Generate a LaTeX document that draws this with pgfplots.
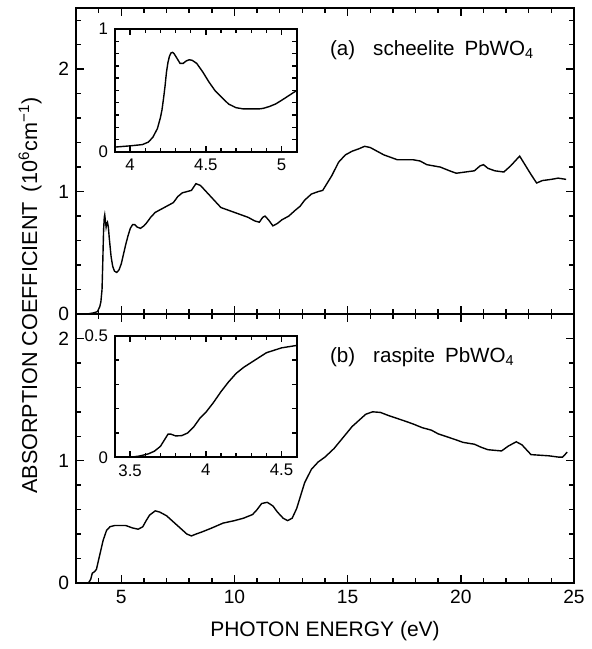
\documentclass[border=0pt]{standalone}
\usepackage{fontspec}
\setmainfont{Liberation Sans}
\usepackage{pgfplots}
\pgfplotsset{compat=1.18}

% scheelite (a): main spectrum and edge inset
\pgfplotstableread{
E v
3.0 0
3.5 0
3.8 0.01
3.95 0.02
4.05 0.06
4.1 0.1
4.15 0.2
4.18 0.4
4.2 0.55
4.22 0.69
4.25 0.79
4.27 0.81
4.3 0.76
4.33 0.71
4.36 0.74
4.39 0.75
4.43 0.71
4.47 0.62
4.55 0.47
4.62 0.39
4.7 0.35
4.8 0.34
4.9 0.36
5.0 0.41
5.1 0.49
5.2 0.57
5.3 0.64
5.4 0.70
5.5 0.73
5.6 0.73
5.7 0.71
5.85 0.70
6.0 0.72
6.1 0.74
6.3 0.79
6.5 0.83
6.8 0.86
7.1 0.89
7.3 0.91
7.5 0.96
7.7 0.99
7.9 1.0
8.1 1.01
8.3 1.065
8.5 1.05
8.7 1.01
8.9 0.97
9.2 0.91
9.4 0.87
9.7 0.85
10.0 0.83
10.3 0.81
10.6 0.79
10.9 0.76
11.1 0.75
11.25 0.79
11.35 0.80
11.5 0.77
11.7 0.72
11.9 0.74
12.1 0.77
12.4 0.80
12.7 0.85
12.9 0.88
13.1 0.93
13.4 0.98
13.7 1.0
13.9 1.01
14.1 1.07
14.3 1.13
14.6 1.24
14.9 1.30
15.2 1.33
15.5 1.35
15.75 1.37
16.0 1.36
16.3 1.33
16.6 1.30
16.9 1.28
17.2 1.26
17.6 1.26
17.9 1.26
18.2 1.25
18.5 1.22
18.8 1.21
19.1 1.20
19.5 1.17
19.8 1.15
20.2 1.16
20.6 1.17
20.85 1.21
21.0 1.22
21.2 1.19
21.5 1.17
21.9 1.16
22.2 1.21
22.45 1.26
22.6 1.29
22.8 1.23
23.1 1.14
23.35 1.07
23.6 1.09
24.0 1.10
24.3 1.11
24.65 1.10
}\scheelite

\pgfplotstableread{
E v
3.9 0.04
4.0 0.05
4.08 0.06
4.12 0.08
4.15 0.12
4.18 0.19
4.2 0.28
4.21 0.34
4.22 0.43
4.23 0.53
4.24 0.65
4.25 0.73
4.26 0.78
4.27 0.805
4.28 0.81
4.29 0.80
4.31 0.76
4.33 0.72
4.35 0.72
4.37 0.74
4.39 0.75
4.41 0.745
4.44 0.72
4.48 0.65
4.52 0.57
4.56 0.50
4.60 0.45
4.65 0.39
4.70 0.36
4.75 0.35
4.80 0.35
4.85 0.35
4.88 0.355
4.92 0.37
4.96 0.39
5.0 0.42
5.05 0.46
5.1 0.50
}\scheeliteedge

% raspite (b)
\pgfplotstableread{
E v
3.0 0
3.55 0
3.65 0.03
3.72 0.08
3.8 0.09
3.9 0.11
4.0 0.19
4.1 0.27
4.2 0.35
4.35 0.43
4.5 0.46
4.7 0.47
5.0 0.47
5.2 0.47
5.5 0.45
5.75 0.44
5.95 0.46
6.1 0.51
6.25 0.555
6.5 0.59
6.7 0.58
7.0 0.55
7.3 0.50
7.6 0.45
7.9 0.40
8.1 0.385
8.3 0.40
8.6 0.42
9.0 0.45
9.5 0.49
10.0 0.51
10.4 0.53
10.8 0.56
11.0 0.60
11.2 0.65
11.45 0.66
11.7 0.63
11.9 0.58
12.15 0.53
12.35 0.51
12.55 0.53
12.75 0.61
12.9 0.70
13.1 0.82
13.4 0.93
13.7 0.99
14.0 1.03
14.4 1.10
14.8 1.19
15.2 1.28
15.5 1.33
15.8 1.38
16.1 1.40
16.45 1.395
16.8 1.37
17.2 1.345
17.6 1.32
17.9 1.30
18.3 1.27
18.7 1.25
19.0 1.22
19.4 1.195
19.8 1.17
20.1 1.15
20.6 1.135
20.9 1.11
21.2 1.09
21.5 1.085
21.8 1.08
22.1 1.12
22.45 1.155
22.7 1.13
22.9 1.09
23.1 1.05
23.5 1.045
23.9 1.04
24.3 1.03
24.5 1.03
24.7 1.07
}\raspite

\pgfplotstableread{
E v
3.5 0.0
3.56 0.005
3.62 0.014
3.66 0.025
3.7 0.045
3.73 0.075
3.75 0.095
3.77 0.095
3.80 0.088
3.84 0.089
3.88 0.10
3.92 0.125
3.96 0.16
4.0 0.185
4.05 0.225
4.1 0.27
4.15 0.31
4.2 0.345
4.25 0.37
4.3 0.39
4.35 0.41
4.4 0.43
4.45 0.44
4.5 0.45
4.55 0.455
4.6 0.46
}\raspiteedge

\begin{document}
\begin{tikzpicture}

% (b) raspite, bottom panel
\begin{axis}[name=bot, scale only axis, anchor=south west, at={(0pt,0pt)},
  width=249pt, height=134.5pt,
  every tick/.style={black, line width=0.7pt},
  major tick length=4pt, minor tick length=2.4pt,
  /pgf/number format/assume math mode=true,
  tick label style={font=\fontsize{9.6}{10}\selectfont},
  xmin=3, xmax=25, ymin=0, ymax=2.2,
  xtick={5,10,15,20,25}, minor xtick={3,4,...,25},
  ytick={0,1,2}, minor ytick={0.2,0.4,...,2.2}]
  \addplot[black, line width=0.7pt, mark=none] table[x=E, y=v] {\raspite};
\end{axis}

% (a) scheelite, top panel
\begin{axis}[name=top, scale only axis, anchor=south west, at={(0pt,134.5pt)},
  width=249pt, height=153pt,
  every tick/.style={black, line width=0.7pt},
  major tick length=4pt, minor tick length=2.4pt,
  /pgf/number format/assume math mode=true,
  tick label style={font=\fontsize{9.6}{10}\selectfont},
  xmin=3, xmax=25, ymin=0, ymax=2.5,
  xtick={5,10,15,20,25}, minor xtick={3,4,...,25}, xticklabels={},
  ytick={0,1,2}, minor ytick={0.2,0.4,...,2.4}]
  \addplot[black, line width=0.7pt, mark=none] table[x=E, y=v] {\scheelite};
\end{axis}

% insets
\begin{axis}[name=insa, scale only axis, anchor=south west, at={(19.5pt,215.5pt)},
  width=90.85pt, height=61.5pt,
  every tick/.style={black, line width=0.7pt},
  major tick length=3pt, minor tick length=2.2pt,
  /pgf/number format/assume math mode=true,
  tick label style={font=\fontsize{8.4}{9}\selectfont},
  xmin=3.9, xmax=5.1, ymin=0, ymax=1,
  xtick={4,4.5,5}, minor xtick={3.9,4.0,...,5.1},
  ytick={0,1}, minor ytick={0.1,0.2,...,0.9}]
  \addplot[black, line width=0.7pt, mark=none] table[x=E, y=v] {\scheeliteedge};
\end{axis}

\begin{axis}[name=insb, scale only axis, anchor=south west, at={(19.5pt,62.85pt)},
  width=90.85pt, height=60.8pt,
  every tick/.style={black, line width=0.7pt},
  major tick length=3pt, minor tick length=2.2pt,
  /pgf/number format/assume math mode=true,
  tick label style={font=\fontsize{8.4}{9}\selectfont},
  xmin=3.4, xmax=4.6, ymin=0, ymax=0.5,
  xtick={3.5,4,4.5}, minor xtick={3.4,3.5,...,4.6},
  ytick={0,0.5}, minor ytick={0.1,0.2,...,0.4}]
  \addplot[black, line width=0.7pt, mark=none] table[x=E, y=v] {\raspiteedge};
\end{axis}

% heavier frames, as in the reference
\draw[line width=0.9pt] (bot.south west) rectangle (bot.north east);
\draw[line width=0.9pt] (top.south west) rectangle (top.north east);
\draw[line width=0.9pt] (insa.south west) rectangle (insa.north east);
\draw[line width=0.9pt] (insb.south west) rectangle (insb.north east);

\node[anchor=west, font=\fontsize{10.3}{12}\selectfont] at (123.5pt,266.5pt)
  {(a)\hspace{9pt}scheelite\hspace{5pt}PbWO\textsubscript{4}};
\node[anchor=west, font=\fontsize{10.3}{12}\selectfont] at (123.5pt,113pt)
  {(b)\hspace{9pt}raspite\hspace{5pt}PbWO\textsubscript{4}};
\node[rotate=90, font=\fontsize{10.8}{12}\selectfont] at (-23pt,143.75pt)
  {ABSORPTION COEFFICIENT\hspace{5pt}(10\textsuperscript{6}cm\textsuperscript{−1})};
\node[font=\fontsize{10.5}{12}\selectfont] at (124.5pt,-24pt) {PHOTON ENERGY (eV)};
\path (-38pt,-33pt) rectangle (255.5pt,291.5pt);
\end{tikzpicture}
\end{document}
